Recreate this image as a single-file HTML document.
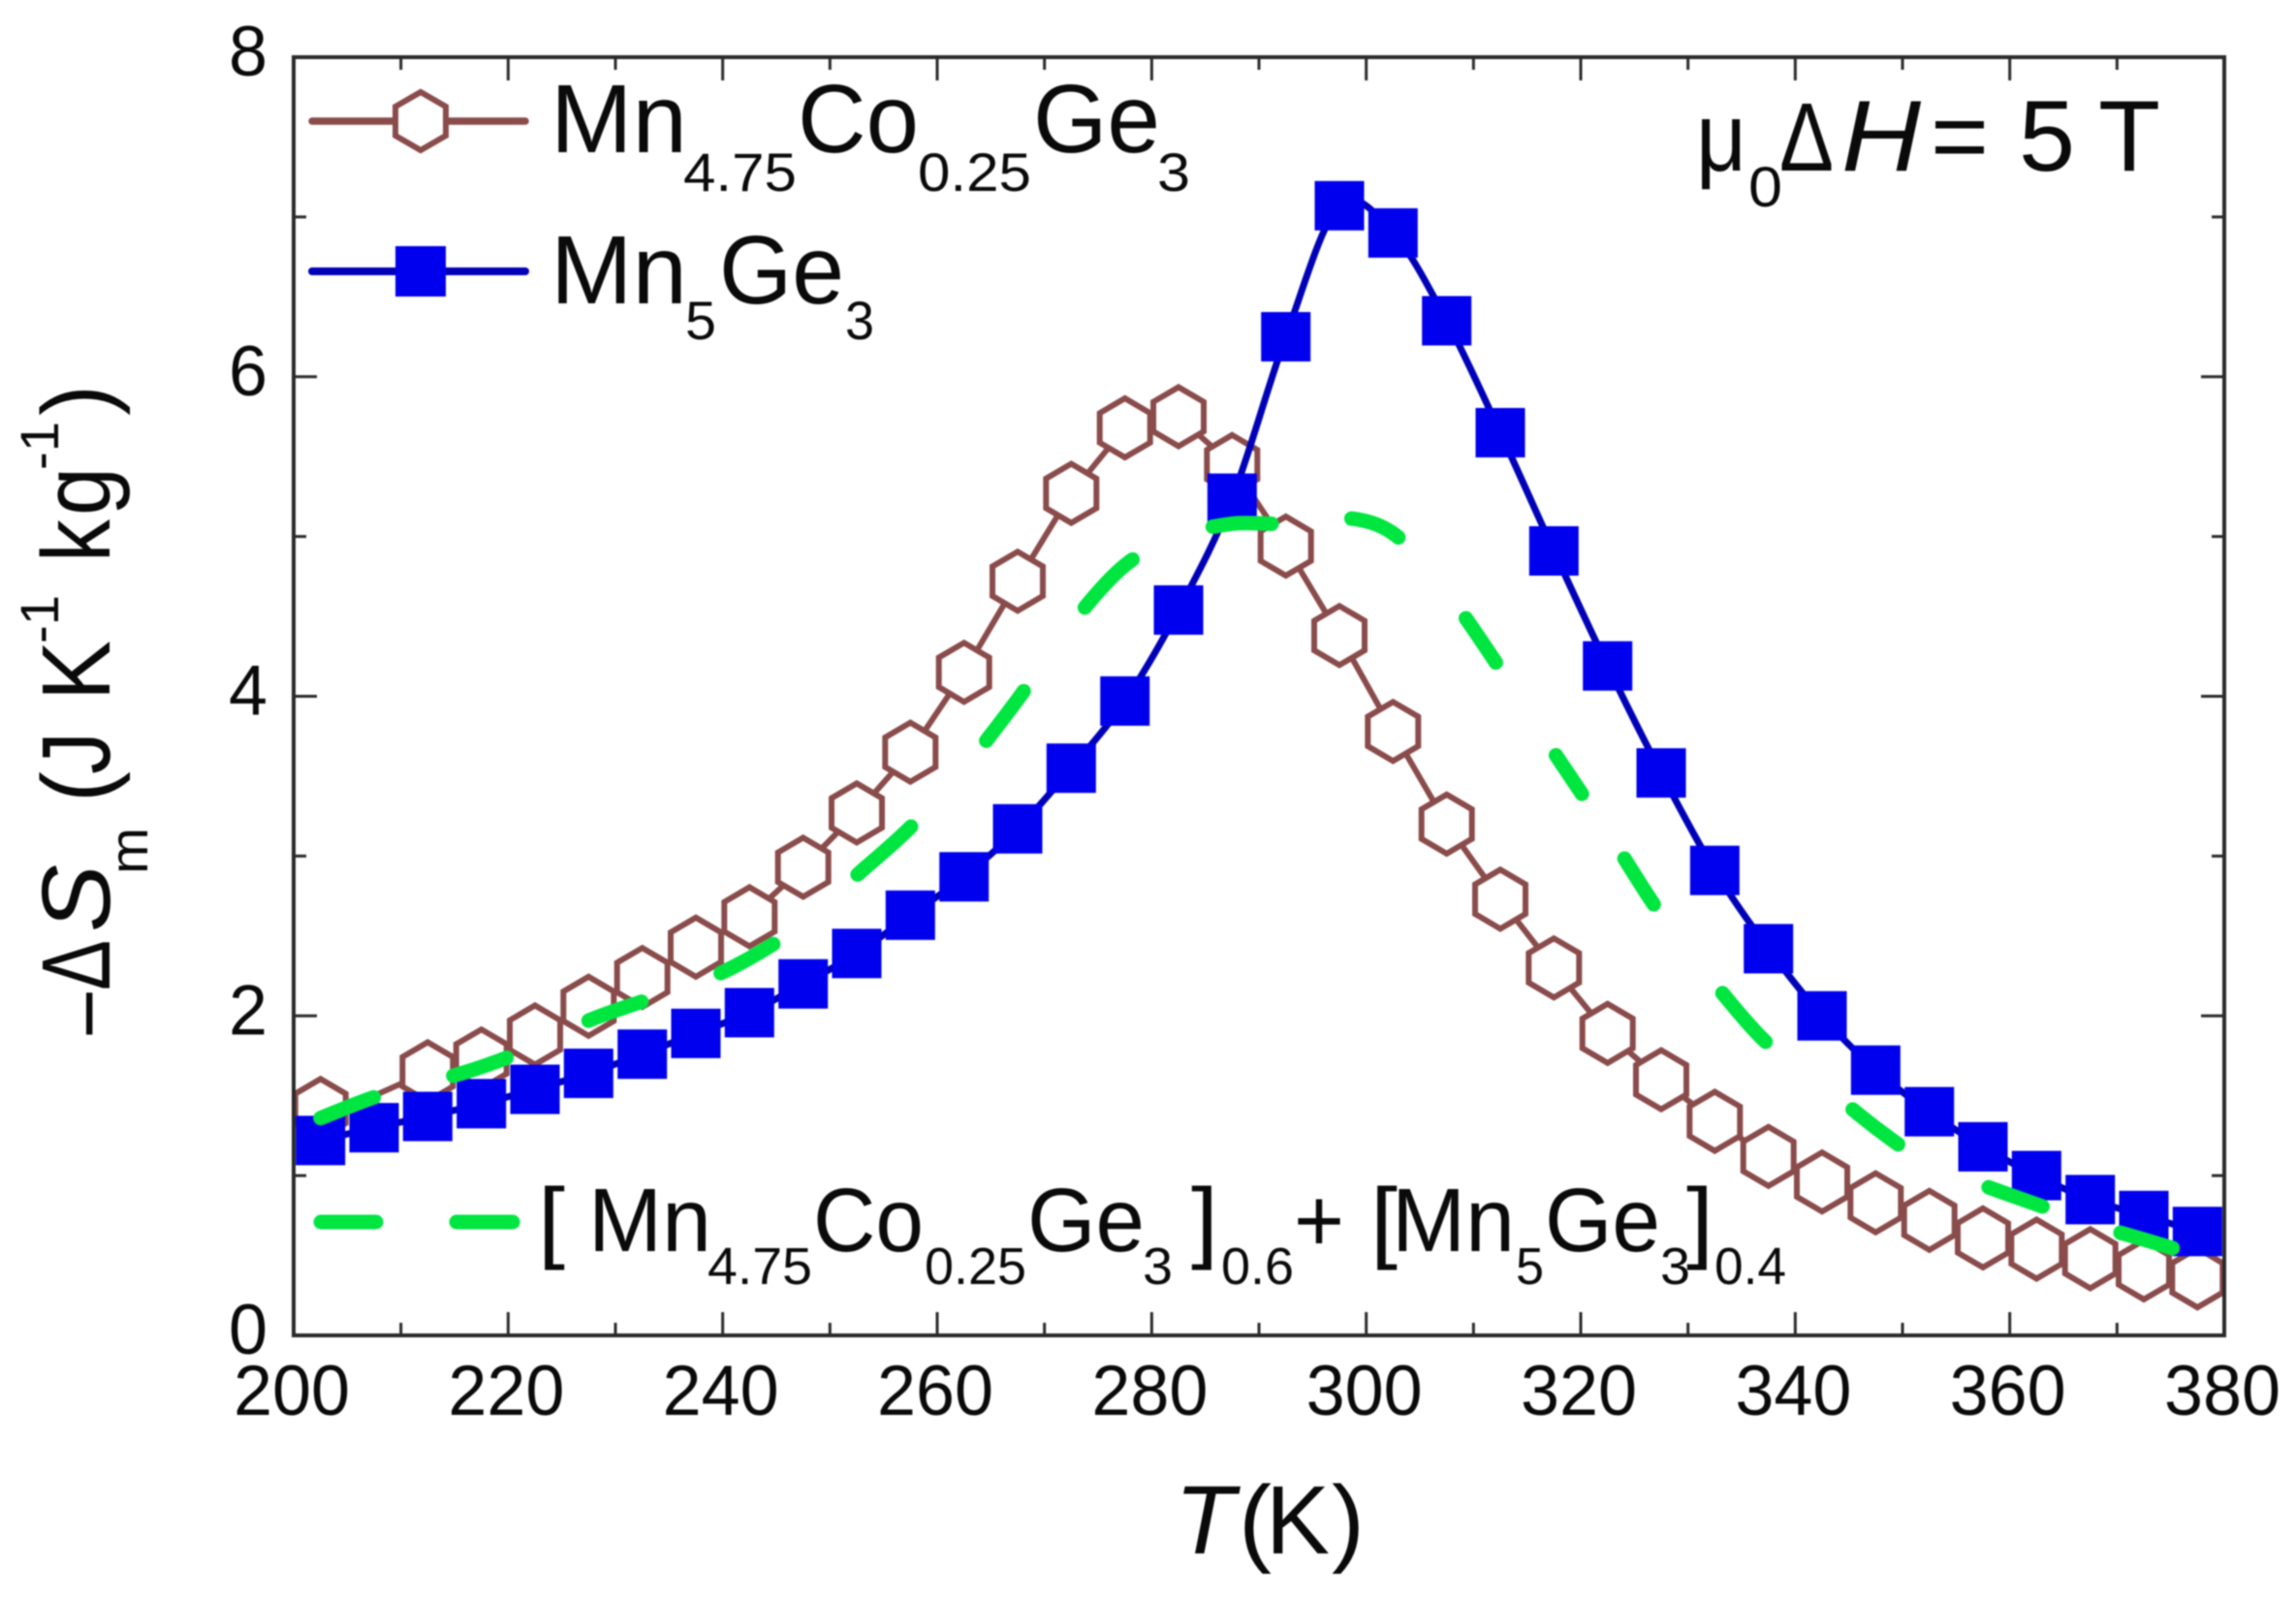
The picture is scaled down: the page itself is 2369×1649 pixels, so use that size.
<!DOCTYPE html>
<html lang="en">
<head>
<meta charset="utf-8">
<title>Magnetic entropy change of Mn5Ge3 alloys</title>
<style>
html,body{margin:0;padding:0;background:#fff;}
svg{display:block;filter:blur(0.7px);}
text{font-family:"Liberation Sans",Arial,sans-serif;fill:#0a0a0a;}
.main{font-size:100px;}
.sub{font-size:56px;}
.leg3{font-size:93px;}
.sub3{font-size:54px;}
.tick{font-size:73px;}
</style>
</head>
<body>
<svg id="chart" width="2369" height="1649" viewBox="0 0 2369 1649" xmlns="http://www.w3.org/2000/svg">
  <defs>
    <clipPath id="plot-clip"><rect x="303" y="59" width="1992" height="1319"></rect></clipPath>
  </defs>
  <g id="series-layer" clip-path="url(#plot-clip)"></g>
  <g id="axis-layer"></g>

  <g>
    <line x1="322" y1="125" x2="542" y2="125" stroke="#8a4b4b" stroke-width="7.5" stroke-linecap="round"></line>
    <polygon points="434,95 460,110 460,140 434,155 408,140 408,110" fill="#fff" stroke="#8a4b4b" stroke-width="6"></polygon>
    <text class="main" x="568" y="157" textLength="141" lengthAdjust="spacingAndGlyphs">Mn</text>
    <text class="sub" x="705" y="197" textLength="117" lengthAdjust="spacingAndGlyphs">4.75</text>
    <text class="main" x="823" y="157" textLength="125" lengthAdjust="spacingAndGlyphs">Co</text>
    <text class="sub" x="947" y="197" textLength="117" lengthAdjust="spacingAndGlyphs">0.25</text>
    <text class="main" x="1066" y="157" textLength="131" lengthAdjust="spacingAndGlyphs">Ge</text>
    <text class="sub" x="1194" y="197" textLength="34" lengthAdjust="spacingAndGlyphs">3</text>
  </g>

  <g>
    <line x1="322" y1="280" x2="542" y2="280" stroke="#0000b8" stroke-width="8" stroke-linecap="round"></line>
    <rect x="408" y="254" width="52" height="52" fill="#0000ee"></rect>
    <text class="main" x="568" y="313" textLength="141" lengthAdjust="spacingAndGlyphs">Mn</text>
    <text class="sub" x="707" y="350" textLength="32" lengthAdjust="spacingAndGlyphs">5</text>
    <text class="main" x="742" y="313" textLength="129" lengthAdjust="spacingAndGlyphs">Ge</text>
    <text class="sub" x="872" y="350" textLength="30" lengthAdjust="spacingAndGlyphs">3</text>
  </g>

  <g>
    <line x1="331" y1="1261" x2="388" y2="1261" stroke="#00e640" stroke-width="15" stroke-linecap="round"></line>
    <line x1="471" y1="1261" x2="529" y2="1261" stroke="#00e640" stroke-width="15" stroke-linecap="round"></line>
    <text class="leg3" x="555" y="1291" textLength="28" lengthAdjust="spacingAndGlyphs">[</text>
    <text class="leg3" x="607" y="1291" textLength="127" lengthAdjust="spacingAndGlyphs">Mn</text>
    <text class="sub3" x="730" y="1325" textLength="108" lengthAdjust="spacingAndGlyphs">4.75</text>
    <text class="leg3" x="839" y="1291" textLength="114" lengthAdjust="spacingAndGlyphs">Co</text>
    <text class="sub3" x="954" y="1325" textLength="105" lengthAdjust="spacingAndGlyphs">0.25</text>
    <text class="leg3" x="1060" y="1291" textLength="121" lengthAdjust="spacingAndGlyphs">Ge</text>
    <text class="sub3" x="1179" y="1325" textLength="31" lengthAdjust="spacingAndGlyphs">3</text>
    <text class="leg3" x="1229" y="1291" textLength="28" lengthAdjust="spacingAndGlyphs">]</text>
    <text class="sub3" x="1260" y="1325" textLength="75" lengthAdjust="spacingAndGlyphs">0.6</text>
    <text class="leg3" x="1335" y="1291" textLength="52" lengthAdjust="spacingAndGlyphs">+</text>
    <text class="leg3" x="1414" y="1291" textLength="28" lengthAdjust="spacingAndGlyphs">[</text>
    <text class="leg3" x="1436" y="1291" textLength="127" lengthAdjust="spacingAndGlyphs">Mn</text>
    <text class="sub3" x="1564" y="1325" textLength="29" lengthAdjust="spacingAndGlyphs">5</text>
    <text class="leg3" x="1594" y="1291" textLength="119" lengthAdjust="spacingAndGlyphs">Ge</text>
    <text class="sub3" x="1713" y="1325" textLength="31" lengthAdjust="spacingAndGlyphs">3</text>
    <text class="leg3" x="1740" y="1291" textLength="28" lengthAdjust="spacingAndGlyphs">]</text>
    <text class="sub3" x="1769" y="1325" textLength="74" lengthAdjust="spacingAndGlyphs">0.4</text>
  </g>

  <g>
    <text x="1750" y="176" font-size="100" textLength="52" lengthAdjust="spacingAndGlyphs">μ</text>
    <text x="1804" y="213" font-size="58" textLength="35" lengthAdjust="spacingAndGlyphs">0</text>
    <text x="1836" y="176" font-size="100" textLength="56" lengthAdjust="spacingAndGlyphs">Δ</text>
    <text x="1900" y="176" font-size="104" font-style="italic" textLength="82" lengthAdjust="spacingAndGlyphs">H</text>
    <text x="1992" y="176" font-size="104" textLength="60" lengthAdjust="spacingAndGlyphs">=</text>
    <text x="2083" y="176" font-size="104" textLength="58" lengthAdjust="spacingAndGlyphs">5</text>
    <text x="2165" y="176" font-size="104" textLength="64" lengthAdjust="spacingAndGlyphs">T</text>
  </g>

  <g>
    <text x="1212" y="1603" font-size="100" font-style="italic" textLength="62" lengthAdjust="spacingAndGlyphs">T</text>
    <text x="1278" y="1603" font-size="100" textLength="34" lengthAdjust="spacingAndGlyphs">(</text>
    <text x="1306" y="1603" font-size="100" textLength="66" lengthAdjust="spacingAndGlyphs">K</text>
    <text x="1374" y="1603" font-size="100" textLength="34" lengthAdjust="spacingAndGlyphs">)</text>
  </g>

  <g>
    <text transform="translate(122,1072) rotate(-90)" font-size="90" textLength="52" lengthAdjust="spacingAndGlyphs">−</text>
    <text transform="translate(113,1022) rotate(-90)" font-size="100" textLength="52" lengthAdjust="spacingAndGlyphs">Δ</text>
    <text transform="translate(113,962) rotate(-90)" font-size="100" font-style="italic" textLength="70" lengthAdjust="spacingAndGlyphs">S</text>
    <text transform="translate(152,902) rotate(-90)" font-size="56" textLength="48" lengthAdjust="spacingAndGlyphs">m</text>
    <text transform="translate(113,828) rotate(-90)" font-size="100" textLength="32" lengthAdjust="spacingAndGlyphs">(</text>
    <text transform="translate(113,799) rotate(-90)" font-size="100" textLength="44" lengthAdjust="spacingAndGlyphs">J</text>
    <text transform="translate(113,723) rotate(-90)" font-size="100" textLength="62" lengthAdjust="spacingAndGlyphs">K</text>
    <text transform="translate(60,664) rotate(-90)" font-size="56" textLength="50" lengthAdjust="spacingAndGlyphs">-1</text>
    <text transform="translate(113,580) rotate(-90)" font-size="100" textLength="44" lengthAdjust="spacingAndGlyphs">k</text>
    <text transform="translate(113,532) rotate(-90)" font-size="100" textLength="50" lengthAdjust="spacingAndGlyphs">g</text>
    <text transform="translate(60,485) rotate(-90)" font-size="56" textLength="50" lengthAdjust="spacingAndGlyphs">-1</text>
    <text transform="translate(113,429) rotate(-90)" font-size="100" textLength="32" lengthAdjust="spacingAndGlyphs">)</text>
  </g>
</svg>
<script>
const temperatures = [202.5,207.5,212.5,217.5,222.5,227.5,232.5,237.5,242.5,247.5,252.5,257.5,262.5,267.5,272.5,277.5,282.5,287.5,292.5,297.5,302.5,307.5,312.5,317.5,322.5,327.5,332.5,337.5,342.5,347.5,352.5,357.5,362.5,367.5,372.5,377.5];
const mnCoGe = [1.42,1.5,1.65,1.73,1.88,2.06,2.24,2.43,2.62,2.93,3.27,3.65,4.15,4.72,5.27,5.68,5.75,5.45,4.94,4.38,3.78,3.2,2.73,2.3,1.89,1.6,1.34,1.12,0.96,0.83,0.72,0.61,0.54,0.48,0.41,0.36];
const mnGe = [1.22,1.3,1.37,1.45,1.54,1.64,1.76,1.89,2.02,2.2,2.39,2.63,2.87,3.17,3.55,3.97,4.54,5.24,6.25,7.07,6.9,6.35,5.65,4.91,4.19,3.52,2.91,2.42,2.0,1.66,1.4,1.18,1.0,0.85,0.75,0.65];
const mixture = [1.36,1.49,1.58,1.68,1.81,1.97,2.09,2.2,2.36,2.58,2.88,3.18,3.55,3.98,4.45,4.82,5.0,5.08,5.08,5.12,5.02,4.65,4.17,3.65,3.15,2.63,2.2,1.82,1.57,1.3,1.07,0.94,0.82,0.7,0.6,0.5];
const hexagonGaps = [207.5];
const xMajorTicks = [200,220,240,260,280,300,320,340,360,380];
const xMinorTicks = [210,230,250,270,290,310,330,350,370];
const yMajorTicks = [0,2,4,6,8];
const yMinorTicks = [1,3,5,7];

const SVG_NS = 'http://www.w3.org/2000/svg';
const plot = {left:303, right:2295, top:59, bottom:1378};
const xDomain = [200,380];
const yDomain = [0,8];
function sx(t){ return plot.left + (t-xDomain[0])/(xDomain[1]-xDomain[0])*(plot.right-plot.left); }
function sy(v){ return plot.bottom - (v-yDomain[0])/(yDomain[1]-yDomain[0])*(plot.bottom-plot.top); }
function make(tag, attrs, parent){
  const el = document.createElementNS(SVG_NS, tag);
  for (const k in attrs) el.setAttribute(k, attrs[k]);
  parent.appendChild(el);
  return el;
}
function linePath(xs, ys){
  return xs.map((t,i)=>(i?'L':'M')+sx(t).toFixed(1)+' '+sy(ys[i]).toFixed(1)).join(' ');
}
function smoothPath(xs, ys){
  const p = xs.map((t,i)=>[sx(t), sy(ys[i])]);
  let d = 'M'+p[0][0].toFixed(1)+' '+p[0][1].toFixed(1);
  for (let i=0;i<p.length-1;i++){
    const a=p[Math.max(i-1,0)], b=p[i], c=p[i+1], e=p[Math.min(i+2,p.length-1)];
    const c1x=b[0]+(c[0]-a[0])/6, c1y=b[1]+(c[1]-a[1])/6;
    const c2x=c[0]-(e[0]-b[0])/6, c2y=c[1]-(e[1]-b[1])/6;
    d+=' C'+c1x.toFixed(1)+' '+c1y.toFixed(1)+' '+c2x.toFixed(1)+' '+c2y.toFixed(1)+' '+c[0].toFixed(1)+' '+c[1].toFixed(1);
  }
  return d;
}

const series = document.getElementById('series-layer');
const axes = document.getElementById('axis-layer');

const brownLine = make('path',{d:linePath(temperatures,mnCoGe),fill:'none',stroke:'#8a4b4b','stroke-width':6},series);


temperatures.forEach((t,i)=>{
  if (hexagonGaps.includes(t)) return;
  const cx=sx(t), cy=sy(mnCoGe[i]), R=30.5, W=26;
  const pts=[[0,-R],[W,-R/2],[W,R/2],[0,R],[-W,R/2],[-W,-R/2]].map(q=>(cx+q[0]).toFixed(1)+','+(cy+q[1]).toFixed(1)).join(' ');
  const hex = make('polygon',{points:pts,fill:'#fff',stroke:'#8a4b4b','stroke-width':6},series);
  
  
});

const blueLine = make('path',{d:smoothPath(temperatures,mnGe),fill:'none',stroke:'#0000b8','stroke-width':7},series);


temperatures.forEach((t,i)=>{
  const size=51;
  const sq = make('rect',{x:(sx(t)-size/2).toFixed(1),y:(sy(mnGe[i])-size/2).toFixed(1),width:size,height:size,fill:'#0000ee'},series);
  
  
});

const greenLine = make('path',{d:smoothPath(temperatures,mixture),fill:'none',stroke:'#00e640','stroke-width':15,'stroke-linecap':'round','stroke-dasharray':'59 85 58 93 58 87 62 113 74 118 64 107 70 90 61 83 53 109 55 114 48 80 56 116 67 114 59 104 59 85 56 400'},series);



const axisColor = '#2a2a2a';
const frame = make('rect',{x:plot.left,y:plot.top,width:plot.right-plot.left,height:plot.bottom-plot.top,fill:'none',stroke:axisColor,'stroke-width':4},axes);



function xTick(t,len){
  [[plot.bottom,-len],[plot.top,len]].forEach(s=>{
    const ln = make('line',{x1:sx(t),x2:sx(t),y1:s[0],y2:s[0]+s[1],stroke:axisColor,'stroke-width':3},axes);
    
    
  });
}
function yTick(v,len){
  [[plot.left,len],[plot.right,-len]].forEach(s=>{
    const ln = make('line',{y1:sy(v),y2:sy(v),x1:s[0],x2:s[0]+s[1],stroke:axisColor,'stroke-width':3},axes);
    
    
  });
}
xMajorTicks.forEach(t=>{
  xTick(t,24);
  const lab = make('text',{class:'tick',x:sx(t)-2,y:1460,'text-anchor':'middle',textLength:120,lengthAdjust:'spacingAndGlyphs'},axes);
  lab.textContent = String(t);
  
  
});
xMinorTicks.forEach(t=>xTick(t,13));
yMajorTicks.forEach(v=>{
  yTick(v,24);
  const lab = make('text',{class:'tick',x:276,y:sy(v)+19,'text-anchor':'end',textLength:40,lengthAdjust:'spacingAndGlyphs'},axes);
  lab.textContent = String(v);
  
  
});
yMinorTicks.forEach(v=>yTick(v,13));
</script>
</body>
</html>
